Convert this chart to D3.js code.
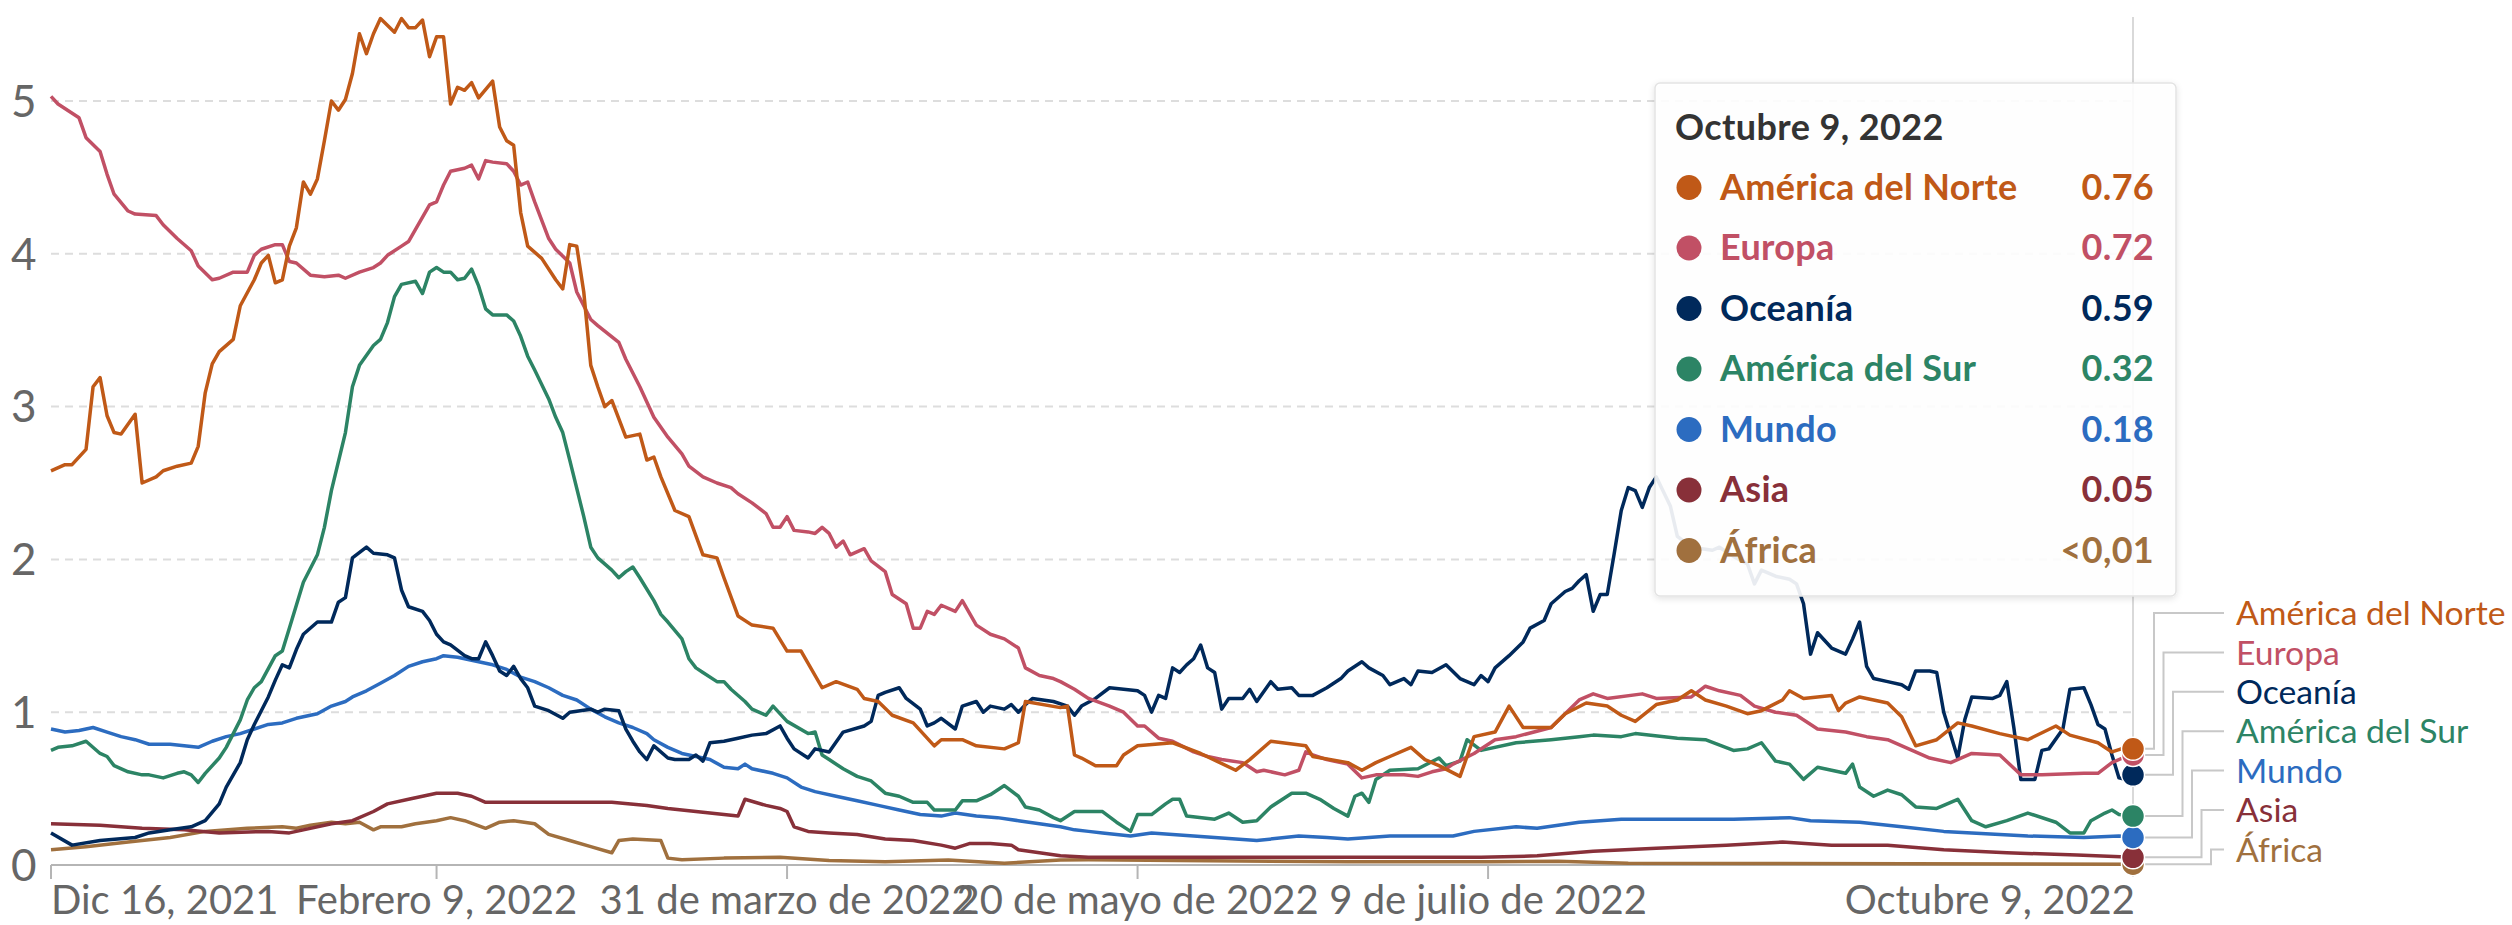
<!DOCTYPE html>
<html><head><meta charset="utf-8">
<script src="https://cdn.jsdelivr.net/npm/d3@7"></script>
<style>
html,body{margin:0;padding:0;background:#fff;}
svg{display:block;font-family:Lato,"Noto Sans",sans-serif;}
</style></head><body>
<svg id="chart" width="2512" height="925"></svg>
<script>
// ---------- DATA ----------
const startDate = "2021-12-16";
const endDate = "2022-10-09";
const categories = ["América del Norte","Europa","Oceanía","América del Sur","Mundo","Asia","África"];
const colors = ["#c05917","#c15065","#00295b","#2c8465","#2c6cc0","#883039","#a0703e"];
// [days since startDate, value]
const northAmerica = [[0,2.58],[2,2.62],[3,2.62],[5,2.72],[6,3.13],[7,3.19],[8,2.94],[9,2.83],[10,2.82],[12,2.95],[13,2.50],[15,2.54],[16,2.58],[18,2.61],[20,2.63],[21,2.74],[22,3.09],[23,3.28],[24,3.36],[26,3.44],[27,3.66],[29,3.83],[30,3.94],[31,3.99],[32,3.81],[33,3.83],[34,4.05],[35,4.17],[36,4.47],[37,4.39],[38,4.49],[39,4.74],[40,5.00],[41,4.94],[42,5.01],[43,5.18],[44,5.44],[45,5.31],[46,5.44],[47,5.54],[49,5.45],[50,5.54],[51,5.48],[52,5.48],[53,5.53],[54,5.29],[55,5.42],[56,5.42],[57,4.98],[58,5.09],[59,5.07],[60,5.12],[61,5.02],[63,5.13],[64,4.83],[65,4.74],[66,4.71],[67,4.27],[68,4.05],[70,3.97],[72,3.83],[73,3.77],[74,4.06],[75,4.05],[76,3.75],[77,3.27],[78,3.13],[79,3.00],[80,3.04],[82,2.80],[84,2.82],[85,2.65],[86,2.67],[87,2.54],[89,2.32],[91,2.28],[93,2.03],[95,2.01],[96,1.88],[98,1.63],[100,1.57],[103,1.55],[105,1.40],[107,1.40],[110,1.16],[112,1.20],[115,1.15],[116,1.09],[118,1.07],[120,0.98],[123,0.93],[126,0.78],[127,0.82],[130,0.82],[132,0.78],[136,0.76],[138,0.80],[139,1.07],[144,1.03],[145,1.04],[146,0.72],[147,0.70],[149,0.65],[152,0.65],[153,0.72],[155,0.78],[160,0.80],[164,0.73],[169,0.62],[171,0.69],[174,0.81],[179,0.78],[180,0.71],[185,0.67],[187,0.62],[189,0.67],[191,0.71],[194,0.77],[196,0.69],[198,0.65],[201,0.58],[202,0.71],[203,0.84],[206,0.87],[208,1.04],[210,0.90],[214,0.90],[216,0.99],[219,1.06],[222,1.04],[224,0.98],[226,0.94],[229,1.05],[232,1.08],[234,1.14],[236,1.08],[239,1.04],[242,0.99],[244,1.01],[247,1.08],[248,1.14],[250,1.09],[254,1.11],[255,1.01],[256,1.06],[258,1.10],[262,1.06],[264,0.97],[266,0.78],[269,0.82],[272,0.93],[274,0.91],[278,0.86],[282,0.82],[286,0.91],[288,0.85],[292,0.80],[294,0.74],[296,0.77],[297,0.76]];
const europe = [[0,5.03],[1,4.98],[4,4.89],[5,4.76],[7,4.67],[8,4.52],[9,4.39],[11,4.28],[12,4.26],[15,4.25],[16,4.19],[18,4.10],[20,4.02],[21,3.92],[23,3.83],[24,3.84],[26,3.88],[28,3.88],[29,3.99],[30,4.03],[32,4.06],[33,4.06],[34,3.95],[35,3.94],[37,3.86],[39,3.85],[41,3.86],[42,3.84],[44,3.88],[46,3.91],[47,3.94],[48,3.99],[50,4.05],[51,4.08],[52,4.16],[54,4.32],[55,4.34],[56,4.45],[57,4.54],[59,4.56],[60,4.58],[61,4.49],[62,4.61],[63,4.60],[65,4.59],[66,4.54],[67,4.45],[68,4.47],[69,4.34],[71,4.10],[72,4.03],[74,3.94],[75,3.75],[77,3.57],[78,3.53],[81,3.42],[82,3.31],[84,3.13],[86,2.93],[88,2.80],[90,2.69],[91,2.61],[93,2.54],[95,2.50],[97,2.47],[98,2.43],[100,2.37],[102,2.30],[103,2.21],[104,2.21],[105,2.28],[106,2.19],[108,2.18],[109,2.17],[110,2.21],[111,2.17],[112,2.08],[113,2.12],[114,2.03],[116,2.07],[117,1.99],[119,1.92],[120,1.77],[122,1.71],[123,1.55],[124,1.55],[125,1.66],[126,1.64],[127,1.70],[129,1.66],[130,1.73],[132,1.57],[134,1.51],[136,1.48],[138,1.42],[139,1.29],[141,1.24],[143,1.22],[144,1.20],[146,1.15],[148,1.09],[151,1.04],[153,1.00],[155,0.91],[156,0.91],[158,0.83],[160,0.81],[163,0.74],[165,0.71],[167,0.69],[170,0.67],[172,0.61],[173,0.62],[176,0.59],[178,0.62],[179,0.74],[180,0.72],[182,0.69],[185,0.66],[187,0.57],[189,0.59],[193,0.59],[195,0.58],[197,0.61],[199,0.63],[200,0.66],[203,0.73],[206,0.82],[209,0.84],[214,0.90],[216,0.99],[218,1.08],[220,1.12],[222,1.09],[227,1.12],[229,1.09],[234,1.10],[236,1.17],[238,1.14],[241,1.11],[243,1.04],[246,1.00],[249,0.98],[252,0.89],[256,0.87],[259,0.84],[262,0.82],[265,0.76],[268,0.70],[271,0.67],[274,0.73],[278,0.72],[281,0.59],[284,0.59],[290,0.60],[292,0.60],[294,0.67],[296,0.71],[297,0.72]];
const oceania = [[0,0.21],[3,0.13],[7,0.16],[12,0.18],[14,0.21],[17,0.23],[20,0.25],[22,0.29],[24,0.40],[25,0.51],[27,0.67],[28,0.82],[29,0.92],[30,1.01],[31,1.10],[32,1.21],[33,1.31],[34,1.29],[35,1.41],[36,1.51],[38,1.59],[40,1.59],[41,1.72],[42,1.75],[43,2.01],[45,2.08],[46,2.04],[48,2.03],[49,2.01],[50,1.80],[51,1.69],[53,1.66],[54,1.60],[55,1.51],[56,1.46],[57,1.44],[59,1.37],[60,1.35],[61,1.35],[62,1.46],[63,1.37],[64,1.27],[65,1.24],[66,1.30],[67,1.22],[68,1.16],[69,1.04],[71,1.01],[73,0.96],[74,1.00],[77,1.02],[78,1.00],[79,1.02],[81,1.01],[82,0.89],[83,0.81],[84,0.74],[85,0.69],[86,0.78],[88,0.70],[89,0.69],[91,0.69],[92,0.72],[93,0.68],[94,0.80],[96,0.81],[98,0.83],[100,0.85],[102,0.86],[104,0.91],[105,0.83],[106,0.76],[108,0.70],[109,0.76],[111,0.74],[113,0.87],[116,0.91],[117,0.94],[118,1.11],[119,1.13],[121,1.16],[122,1.09],[124,1.02],[125,0.91],[126,0.93],[127,0.96],[129,0.89],[130,1.04],[132,1.07],[133,1.00],[134,1.04],[136,1.02],[137,1.05],[138,1.00],[139,1.05],[140,1.09],[143,1.07],[145,1.04],[146,0.98],[147,1.04],[149,1.09],[151,1.16],[155,1.14],[156,1.11],[157,1.00],[158,1.11],[159,1.09],[160,1.29],[161,1.26],[162,1.31],[163,1.35],[164,1.44],[165,1.29],[166,1.26],[167,1.02],[168,1.09],[170,1.09],[171,1.15],[172,1.07],[174,1.20],[175,1.15],[177,1.16],[178,1.11],[180,1.11],[182,1.16],[184,1.22],[185,1.27],[187,1.33],[188,1.29],[190,1.24],[191,1.18],[193,1.22],[194,1.18],[195,1.27],[197,1.26],[199,1.31],[201,1.22],[203,1.18],[204,1.24],[205,1.20],[206,1.29],[208,1.37],[210,1.46],[211,1.55],[213,1.60],[214,1.71],[216,1.79],[217,1.81],[218,1.86],[219,1.90],[220,1.66],[221,1.77],[222,1.77],[223,2.04],[224,2.32],[225,2.47],[226,2.45],[227,2.34],[228,2.47],[229,2.54],[231,2.35],[232,2.15],[234,2.08],[237,2.06],[238,2.08],[240,2.02],[242,1.97],[243,1.84],[244,1.93],[246,1.89],[248,1.87],[249,1.84],[250,1.71],[251,1.38],[252,1.52],[254,1.42],[256,1.38],[257,1.48],[258,1.59],[259,1.30],[260,1.22],[262,1.20],[264,1.18],[265,1.15],[266,1.27],[268,1.27],[269,1.26],[270,1.00],[272,0.70],[273,0.95],[274,1.10],[277,1.09],[278,1.11],[279,1.20],[280,0.90],[281,0.56],[283,0.56],[284,0.75],[285,0.76],[287,0.89],[288,1.15],[290,1.16],[291,1.05],[292,0.92],[293,0.89],[294,0.72],[295,0.57],[296,0.56],[297,0.59]];
const southAmerica = [[0,0.75],[1,0.77],[3,0.78],[5,0.81],[7,0.73],[8,0.71],[9,0.65],[11,0.61],[13,0.59],[14,0.59],[16,0.57],[18,0.60],[19,0.61],[20,0.59],[21,0.54],[22,0.60],[24,0.70],[25,0.77],[27,0.95],[28,1.08],[29,1.16],[30,1.20],[32,1.37],[33,1.40],[34,1.55],[35,1.70],[36,1.85],[38,2.03],[39,2.21],[40,2.45],[42,2.83],[43,3.13],[44,3.27],[46,3.40],[47,3.44],[48,3.55],[49,3.72],[50,3.80],[52,3.82],[53,3.74],[54,3.88],[55,3.91],[56,3.88],[57,3.88],[58,3.83],[59,3.84],[60,3.90],[61,3.79],[62,3.64],[63,3.60],[65,3.60],[66,3.56],[67,3.46],[68,3.33],[69,3.24],[71,3.05],[72,2.93],[73,2.83],[74,2.65],[76,2.28],[77,2.08],[78,2.01],[80,1.93],[81,1.88],[82,1.92],[83,1.95],[84,1.88],[86,1.73],[87,1.64],[88,1.59],[90,1.48],[91,1.35],[92,1.29],[93,1.26],[95,1.20],[96,1.20],[97,1.15],[99,1.07],[100,1.02],[102,0.98],[103,1.04],[105,0.94],[108,0.86],[109,0.87],[110,0.72],[111,0.69],[113,0.63],[115,0.58],[117,0.55],[119,0.47],[121,0.45],[123,0.41],[125,0.41],[126,0.36],[129,0.36],[130,0.42],[132,0.42],[134,0.46],[136,0.52],[138,0.45],[139,0.38],[141,0.36],[143,0.31],[144,0.29],[146,0.35],[150,0.35],[152,0.28],[154,0.22],[155,0.33],[157,0.33],[159,0.40],[160,0.43],[161,0.43],[162,0.32],[166,0.30],[168,0.34],[170,0.28],[172,0.29],[174,0.38],[177,0.47],[179,0.47],[181,0.43],[183,0.37],[185,0.32],[186,0.45],[187,0.47],[188,0.41],[189,0.56],[191,0.62],[195,0.63],[198,0.70],[199,0.65],[201,0.68],[202,0.82],[204,0.75],[209,0.80],[214,0.82],[218,0.84],[220,0.85],[224,0.84],[226,0.86],[232,0.83],[236,0.82],[240,0.75],[242,0.76],[244,0.80],[246,0.68],[248,0.66],[250,0.56],[252,0.64],[256,0.60],[257,0.66],[258,0.51],[260,0.45],[262,0.49],[264,0.46],[266,0.38],[269,0.37],[272,0.43],[274,0.29],[276,0.25],[279,0.29],[282,0.34],[286,0.28],[288,0.21],[290,0.21],[291,0.29],[293,0.34],[294,0.36],[295,0.33],[297,0.32]];
const world = [[0,0.89],[2,0.87],[4,0.88],[6,0.90],[8,0.87],[10,0.84],[12,0.82],[14,0.79],[17,0.79],[21,0.77],[23,0.81],[25,0.84],[27,0.86],[29,0.89],[31,0.92],[33,0.93],[35,0.96],[38,0.99],[40,1.04],[42,1.07],[43,1.10],[45,1.14],[47,1.19],[49,1.24],[51,1.30],[53,1.33],[55,1.35],[56,1.37],[58,1.36],[60,1.34],[62,1.32],[63,1.31],[65,1.28],[67,1.23],[69,1.20],[71,1.16],[73,1.11],[75,1.08],[77,1.02],[79,0.97],[81,0.93],[83,0.90],[85,0.86],[86,0.82],[88,0.77],[90,0.73],[92,0.71],[94,0.69],[96,0.64],[98,0.63],[99,0.66],[100,0.63],[103,0.60],[105,0.57],[107,0.51],[109,0.48],[112,0.45],[115,0.42],[118,0.39],[121,0.36],[124,0.33],[127,0.32],[129,0.34],[132,0.32],[135,0.31],[138,0.29],[141,0.27],[144,0.25],[146,0.23],[148,0.22],[150,0.21],[154,0.19],[157,0.21],[163,0.19],[169,0.17],[172,0.16],[178,0.19],[182,0.18],[185,0.17],[191,0.19],[200,0.19],[203,0.22],[209,0.25],[212,0.24],[218,0.28],[224,0.30],[230,0.30],[240,0.30],[248,0.31],[251,0.29],[258,0.28],[264,0.25],[270,0.22],[274,0.21],[282,0.19],[290,0.18],[295,0.19],[297,0.18]];
const asia = [[0,0.27],[7,0.26],[13,0.24],[19,0.23],[24,0.21],[31,0.22],[34,0.21],[36,0.23],[40,0.27],[43,0.29],[46,0.35],[48,0.40],[51,0.43],[53,0.45],[55,0.47],[58,0.47],[60,0.45],[62,0.41],[65,0.41],[73,0.41],[80,0.41],[85,0.39],[88,0.37],[92,0.35],[96,0.33],[98,0.32],[99,0.43],[102,0.39],[104,0.37],[105,0.35],[106,0.25],[108,0.22],[111,0.21],[115,0.20],[119,0.17],[123,0.16],[127,0.13],[129,0.11],[131,0.14],[134,0.14],[137,0.13],[138,0.10],[141,0.08],[144,0.06],[148,0.05],[194,0.05],[204,0.05],[212,0.06],[220,0.09],[229,0.11],[239,0.13],[247,0.15],[254,0.13],[262,0.13],[270,0.10],[279,0.08],[289,0.065],[297,0.05]];
const africa = [[0,0.10],[5,0.12],[11,0.15],[17,0.18],[22,0.22],[28,0.24],[33,0.25],[35,0.24],[37,0.26],[40,0.28],[42,0.27],[44,0.28],[46,0.23],[47,0.25],[50,0.25],[52,0.27],[55,0.29],[57,0.31],[59,0.29],[62,0.24],[64,0.28],[66,0.29],[69,0.27],[71,0.20],[74,0.16],[77,0.12],[80,0.08],[81,0.16],[83,0.17],[87,0.16],[88,0.045],[90,0.035],[96,0.045],[104,0.05],[111,0.03],[119,0.022],[128,0.033],[136,0.012],[144,0.033],[148,0.035],[165,0.028],[185,0.022],[205,0.022],[215,0.025],[225,0.012],[245,0.01],[265,0.008],[297,0.005]];
const seriesData = [northAmerica, europe, oceania, southAmerica, world, asia, africa];
const yTicks = [0,1,2,3,4,5];
const xTickDates = ["2021-12-16","2022-02-09","2022-03-31","2022-05-20","2022-07-09","2022-10-09"];
const xTickLabels = ["Dic 16, 2021","Febrero 9, 2022","31 de marzo de 2022","20 de mayo de 2022","9 de julio de 2022","Octubre 9, 2022"];
const tooltipTitle = "Octubre 9, 2022";
const tooltipValues = ["0.76","0.72","0.59","0.32","0.18","0.05","<0,01"];

// ---------- CHART ----------
const W = 2512;
const svg = d3.select("#chart");
const parse = d3.utcParse("%Y-%m-%d");
const t0 = parse(startDate), t1 = parse(endDate);
const x = d3.scaleUtc().domain([t0, t1]).range([51, 2133]);
const y = d3.scaleLinear().domain([0, 5]).range([865, 101]);

const defs = svg.append("defs");
const f = defs.append("filter").attr("id","shadow").attr("x","-10%").attr("y","-10%").attr("width","120%").attr("height","120%");
f.append("feDropShadow").attr("dx",0).attr("dy",2).attr("stdDeviation",3).attr("flood-color","#000").attr("flood-opacity",0.12);

// gridlines
svg.append("g").selectAll("line").data(yTicks.filter(v => v > 0)).join("line")
  .attr("x1", 51).attr("x2", 2133)
  .attr("y1", d => y(d)).attr("y2", d => y(d))
  .attr("stroke", "#dddddd").attr("stroke-width", 2).attr("stroke-dasharray", "8,6");

// y labels
svg.append("g").selectAll("text").data(yTicks).join("text")
  .attr("x", 11).attr("y", d => y(d)).attr("dy", "0.36em")
  .attr("font-size", 44).attr("fill", "#666").text(d => d);

// x axis
svg.append("line").attr("x1", 51).attr("x2", 2133).attr("y1", 865).attr("y2", 865)
  .attr("stroke", "#b5b5b5").attr("stroke-width", 2);
const xt = xTickDates.map(parse);
svg.append("g").selectAll("line").data(xt.slice(0, -1)).join("line")
  .attr("x1", d => x(d)).attr("x2", d => x(d)).attr("y1", 865).attr("y2", 879)
  .attr("stroke", "#b5b5b5").attr("stroke-width", 2);
svg.append("g").selectAll("text").data(xt).join("text")
  .attr("x", (d, i) => i === xt.length - 1 ? x(d) + 2 : x(d))
  .attr("y", 914)
  .attr("text-anchor", (d, i) => i === 0 ? "start" : (i === xt.length - 1 ? "end" : "middle"))
  .attr("font-size", 40).attr("fill", "#666")
  .text((d, i) => xTickLabels[i]);

// hover line
svg.append("line").attr("x1", x(t1)).attr("x2", x(t1)).attr("y1", 17).attr("y2", 877)
  .attr("stroke", "#d9d9d9").attr("stroke-width", 2);

// lines
const line = d3.line().x(p => x(d3.utcDay.offset(t0, p[0]))).y(p => y(p[1]));
const order = d3.range(categories.length).reverse();
svg.append("g").selectAll("path").data(order).join("path")
  .attr("d", i => line(seriesData[i]))
  .attr("fill", "none").attr("stroke", i => colors[i]).attr("stroke-width", 3.5)
  .attr("stroke-linejoin", "round");

// end-label connectors and labels
const labelX = 2236;
const conn = svg.append("g");
const labels = [];
categories.forEach((c, i) => {
  const last = seriesData[i][seriesData[i].length - 1];
  const ex = x(d3.utcDay.offset(t0, last[0])), ey = y(last[1]);
  const ly = 613 + i * 39.4;
  const elbow = 2154 + i * 9.5;
  conn.append("path")
    .attr("d", `M${ex},${ey}H${elbow}V${ly}H2224`)
    .attr("fill", "none").attr("stroke", "#c8c8c8").attr("stroke-width", 2);
  labels.push(svg.append("text").attr("x", labelX).attr("y", ly).attr("dy", "0.36em")
    .attr("font-size", 35).attr("fill", colors[i]).text(c));
});
// shrink the end labels together so the longest fits inside the picture
const avail = W - labelX - 6;
const maxLen = d3.max(labels, t => t.node().getComputedTextLength());
if (maxLen > avail) {
  const fs = Math.floor(35 * avail / maxLen * 10) / 10;
  labels.forEach(t => t.attr("font-size", fs));
}
// end dots
svg.append("g").selectAll("circle").data(order).join("circle")
  .attr("cx", i => x(d3.utcDay.offset(t0, seriesData[i][seriesData[i].length - 1][0])))
  .attr("cy", i => y(seriesData[i][seriesData[i].length - 1][1]))
  .attr("r", 11.5).attr("fill", i => colors[i]).attr("stroke", "#fff").attr("stroke-width", 1.5);

// tooltip
const tt = svg.append("g");
tt.append("rect").attr("x", 1655).attr("y", 83).attr("width", 521).attr("height", 513).attr("rx", 5)
  .attr("fill", "#fff").attr("fill-opacity", 0.9).attr("stroke", "#e3e3e3").attr("stroke-width", 1.5)
  .attr("filter", "url(#shadow)");
tt.append("text").attr("x", 1675).attr("y", 140).attr("font-size", 36).attr("font-weight", 700)
  .attr("letter-spacing", 0.4).attr("fill", "#333").text(tooltipTitle);
categories.forEach((c, i) => {
  const by = 199.5 + i * 60.5;
  tt.append("circle").attr("cx", 1689).attr("cy", by - 12).attr("r", 12.5).attr("fill", colors[i]);
  tt.append("text").attr("x", 1720).attr("y", by).attr("font-size", 36).attr("font-weight", 700)
    .attr("letter-spacing", 0.3).attr("fill", colors[i]).text(c);
  tt.append("text").attr("x", 2154).attr("y", by).attr("text-anchor", "end").attr("font-size", 36)
    .attr("font-weight", 700).attr("letter-spacing", 0.3).attr("fill", colors[i]).text(tooltipValues[i]);
});
</script>
</body></html>
